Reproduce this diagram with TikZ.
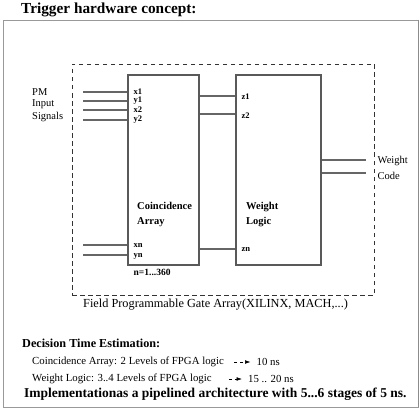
\documentclass[tikz,border=0pt]{standalone}
\usepackage{fontspec}
\setmainfont{Liberation Serif}
\usetikzlibrary{arrows.meta,positioning}

\begin{document}
\begin{tikzpicture}[
  x=1pt, y=-1pt,
  wire/.style={draw=black!60, line width=1.1pt},
  block/.style={rectangle, draw=black!65, line width=1.1pt, inner sep=0pt},
  fpga/.style={rectangle, draw=black!80, dashed, dash pattern=on 4.5pt off 3.5pt, line width=0.7pt, inner sep=0pt},
  pin/.style={font=\fontsize{8.5}{9}\selectfont\bfseries, anchor=west, inner sep=0pt},
  sig/.style={font=\fontsize{10.5}{11}\selectfont, anchor=west, inner sep=0pt},
  blab/.style={font=\fontsize{10.5}{15}\selectfont\bfseries, anchor=west, align=left, inner sep=0pt},
  txt/.style={font=\fontsize{10.8}{12}\selectfont, anchor=west, inner sep=0pt},
  head/.style={font=\fontsize{12.2}{13}\selectfont\bfseries, anchor=west, inner sep=0pt},
  est/.style={dashed, dash pattern=on 3pt off 3pt, line width=0.6pt, -{Latex[length=5.5pt,width=3.8pt]}},
]
\useasboundingbox (0,0) rectangle (420,409);
% ---------------- frame and title ----------------
\node[rectangle, draw=black!40, line width=0.8pt, minimum width=415pt, minimum height=387pt, inner sep=0pt] (frame) at (210.5,213.5) {};
\draw[black!45, line width=1.6pt] (frame.north east) -- (frame.south east);
\node[font=\fontsize{15.3}{16}\selectfont\bfseries, anchor=west, inner sep=0pt] (title) at (21,10) {Trigger hardware concept:};

% ---------------- FPGA with the two blocks ----------------
\node[fpga, minimum width=302pt, minimum height=231pt] (fp) at (223,179.5) {};
\node[block, minimum width=71pt, minimum height=190pt] (ca) at (163.5,170) {};
\node[block, minimum width=85pt, minimum height=190pt] (wl) at (278.5,170) {};

\node[sig] (pm) at (32,92) {PM};
\node[sig] (inp) at (32,104.5) {Input};
\node[sig] (sg) at (32,117) {Signals};

\node[pin] (x1) at (133.5,92) {x1};
\node[pin] (y1) at (133.5,101) {y1};
\node[pin] (x2) at (133.5,110) {x2};
\node[pin] (y2) at (133.5,120) {y2};
\node[pin] (xn) at (133.5,245) {xn};
\node[pin] (yn) at (133.5,256) {yn};
\coordinate (a1) at (83,92);
\coordinate (b1) at (83,101);
\coordinate (a2) at (83,110);
\coordinate (b2) at (83,120);
\coordinate (an) at (83,245);
\coordinate (bn) at (83,255);
\foreach \p in {a1,b1,a2,b2,an,bn}
  \draw[wire] (\p) -- (\p -| ca.west);

\node[pin] (z1) at (241.5,97) {z1};
\node[pin] (z2) at (241.5,115.5) {z2};
\node[pin] (zn) at (241.5,249.5) {zn};
\draw[wire] (ca.east |- 0,96) -- (wl.west |- 0,96);
\draw[wire] (ca.east |- 0,114) -- (wl.west |- 0,114);
\draw[wire] (ca.east |- 0,249) -- (wl.west |- 0,249);

\coordinate (o1) at (366,160);
\coordinate (o2) at (366,173);
\draw[wire] (o1 -| wl.east) -- (o1);
\draw[wire] (o2 -| wl.east) -- (o2);
\node[sig] (wt) at (377.5,160.5) {Weight};
\node[sig] (cd) at (377.5,176) {Code};

\node[blab] (cal) at (137,214.5) {Coincidence\\ Array};
\node[blab] (wll) at (246,214.5) {Weight\\Logic};
\node[font=\fontsize{9.5}{10}\selectfont\bfseries, anchor=west, inner sep=0pt] (nr) at (133.5,272) {n=1...360};
\node[font=\fontsize{12.3}{13}\selectfont, anchor=west, inner sep=0pt] (fpl) at (83,304.5) {Field Programmable Gate Array(XILINX, MACH,...)};

% ---------------- decision time ----------------
\node[head] (dte) at (22,343) {Decision Time Estimation:};
\node[txt] (t1) at (32,362) {Coincidence Array: 2 Levels of FPGA logic};
\node[txt] (n1) at (256.5,362) {10 ns};
\node[txt] (t2) at (32,379) {Weight Logic: 3..4 Levels of FPGA logic};
\node[txt] (n2) at (248,379) {15 .. 20 ns};
\draw[est, shorten <=10pt, shorten >=6pt] (t1.east) -- (n1.west);
\draw[est, shorten <=17pt, shorten >=6pt] (t2.east) -- (n2.west);
\node[font=\fontsize{13.5}{15}\selectfont\bfseries, anchor=west, inner sep=0pt] (impl) at (24,394) {Implementationas a pipelined architecture with 5...6 stages of 5 ns.};
\end{tikzpicture}
\end{document}
